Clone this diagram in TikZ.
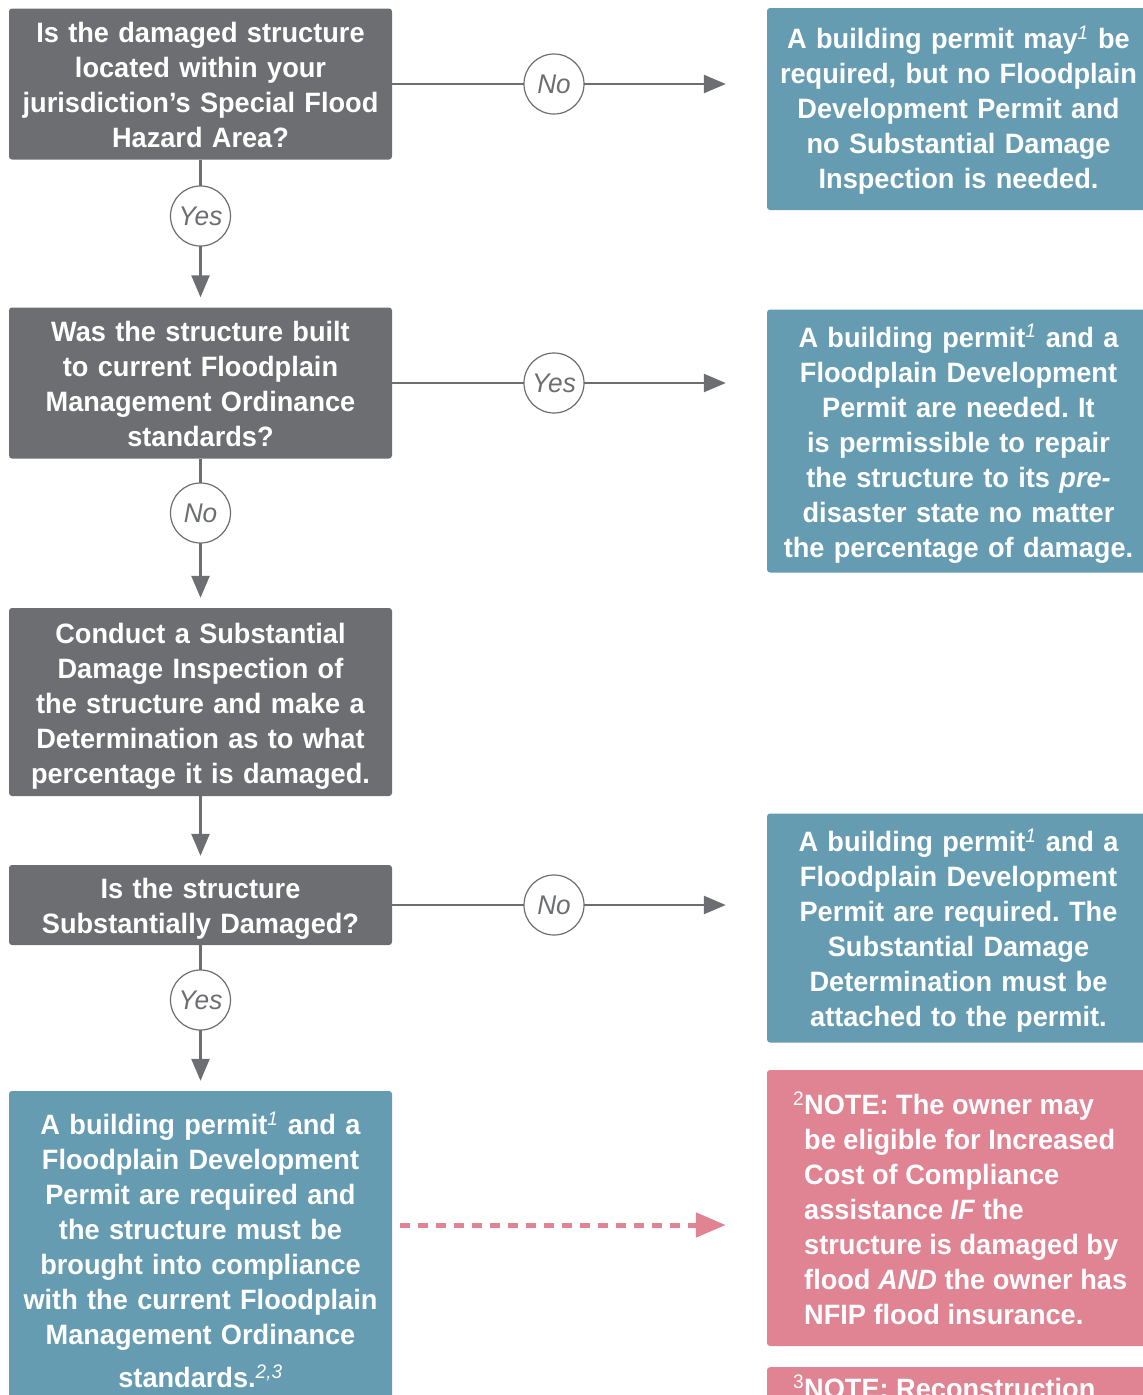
\documentclass[tikz,border=0pt]{standalone}
\usepackage{fontspec}
\setmainfont{Liberation Sans}[FakeStretch=0.97]
\usetikzlibrary{arrows.meta}
\definecolor{flowgray}{HTML}{6D6E71}
\definecolor{flowblue}{HTML}{659CB2}
\definecolor{flowpink}{HTML}{E08393}
\frenchspacing
\newcommand{\fnmark}[1]{\textsuperscript{\mdseries\itshape #1}}
\newcommand{\linestrut}{\vrule height 28.5pt depth 6.5pt width 0pt}
\newcommand{\shortstrut}{\vrule height 25.5pt depth 9.5pt width 0pt}
\begin{document}
\begin{tikzpicture}[x=1pt,y=-1pt,
  boxtext/.style={font=\fontsize{28}{35}\selectfont\bfseries, text=white},
  struts/.style={execute at begin node=\linestrut, execute at end node=\linestrut},
  qbox/.style={boxtext, struts, fill=flowgray, rounded corners=3pt, minimum width=383pt,
    text width=375pt, align=center, inner sep=0pt},
  abox/.style={boxtext, struts, fill=flowblue, rounded corners=3pt, minimum width=383pt,
    text width=375pt, align=center, inner sep=0pt},
  nbox/.style={fill=flowpink, rounded corners=3pt, minimum width=383pt, inner sep=0pt},
  flow/.style={draw=flowgray, line width=2.5pt, -{Triangle[length=22pt,width=18pt]}},
  hint/.style={draw=flowpink, line width=5pt, dash pattern=on 10pt off 8pt,
    -{Triangle[length=30pt,width=24pt]}},
  answer/.style={circle, draw=flowgray, line width=1.2pt, fill=white, minimum size=60pt,
    inner sep=0pt, text=flowgray, font=\fontsize{27}{30}\selectfont\itshape},
]
\useasboundingbox (0,0) rectangle (1143,1395);
\clip (0,0) rectangle (1143,1395);

% question column
\node[qbox, minimum height=151pt] (q1) at (200.5,84)
  {Is the damaged structure\\located within your\\jurisdiction’s Special Flood\\Hazard Area?};
\node[qbox, minimum height=151pt] (q2) at (200.5,383)
  {Was the structure built\\to current Floodplain\\Management Ordinance\\standards?};
\node[qbox, minimum height=188pt] (q3) at (200.5,702)
  {Conduct a Substantial\\Damage Inspection of\\the structure and make a\\Determination as to what\\percentage it is damaged.};
\node[qbox, minimum height=80pt] (q4) at (200.5,905)
  {Is the structure\\Substantially Damaged?};
\node[abox, minimum height=318pt] (a5) at (200.5,1250)
  {A building permit\fnmark{1} and a\\Floodplain Development\\Permit are required and\\the structure must be\\brought into compliance\\with the current Floodplain\\Management Ordinance\\[8pt]standards.\fnmark{2,3}};

% outcome column
\node[abox, minimum height=202pt,
      execute at begin node=\shortstrut, execute at end node=\shortstrut] (r1) at (958.5,109)
  {A building permit may\fnmark{1} be\\required, but no Floodplain\\Development Permit and\\no Substantial Damage\\Inspection is needed.};
\node[abox, minimum height=263pt] (r2) at (958.5,441)
  {A building permit\fnmark{1} and a\\Floodplain Development\\Permit are needed. It\\is permissible to repair\\the structure to its \textit{pre-}\\disaster state no matter\\the percentage of damage.};
\node[abox, minimum height=229pt] (r3) at (958.5,928)
  {A building permit\fnmark{1} and a\\Floodplain Development\\Permit are required. The\\Substantial Damage\\Determination must be\\attached to the permit.};

% notes
\node[nbox, minimum height=276pt] (n2) at (958.5,1208) {};
\node[boxtext, align=left, inner sep=0pt, anchor=west] (n2t) at (804,1208)
  {\llap{\textsuperscript{\mdseries 2}}NOTE: The owner may\\be eligible for Increased\\Cost of Compliance\\assistance \textit{IF} the\\structure is damaged by\\flood \textit{AND} the owner has\\NFIP flood insurance.};
\node[nbox, minimum height=140pt, anchor=north] (n3) at (958.5,1367) {};
\node[boxtext, inner sep=0pt, anchor=base west] (n3t) at (804,1398)
  {\llap{\textsuperscript{\mdseries 3}}NOTE: Reconstruction};

% vertical connectors
\draw[flow, shorten >=10pt] (q1.south) -- (q2.north);
\draw[flow, shorten >=10pt] (q2.south) -- (q3.north);
\draw[flow, shorten >=9pt] (q3.south) -- (q4.north);
\draw[flow, shorten >=10pt] (q4.south) -- (a5.north);

% horizontal connectors
\draw[flow, shorten >=41pt] (q1.east) -- (q1.east -| r1.west);
\draw[flow, shorten >=41pt] (q2.east) -- (q2.east -| r2.west);
\draw[flow, shorten >=41pt] (q4.east) -- (q4.east -| r3.west);

% dashed pointer to the note
\coordinate (hs) at (400,1225);
\coordinate (he) at (n2.west |- hs);
\draw[hint, shorten >=41pt] (hs) -- (he);

% answer labels
\node[answer] (l1) at (554,84) {No};
\node[answer] (l2) at (200.5,216) {Yes};
\node[answer] (l3) at (554,383) {Yes};
\node[answer] (l4) at (200.5,513) {No};
\node[answer] (l5) at (554,905) {No};
\node[answer] (l6) at (200.5,1000) {Yes};
\end{tikzpicture}
\end{document}
